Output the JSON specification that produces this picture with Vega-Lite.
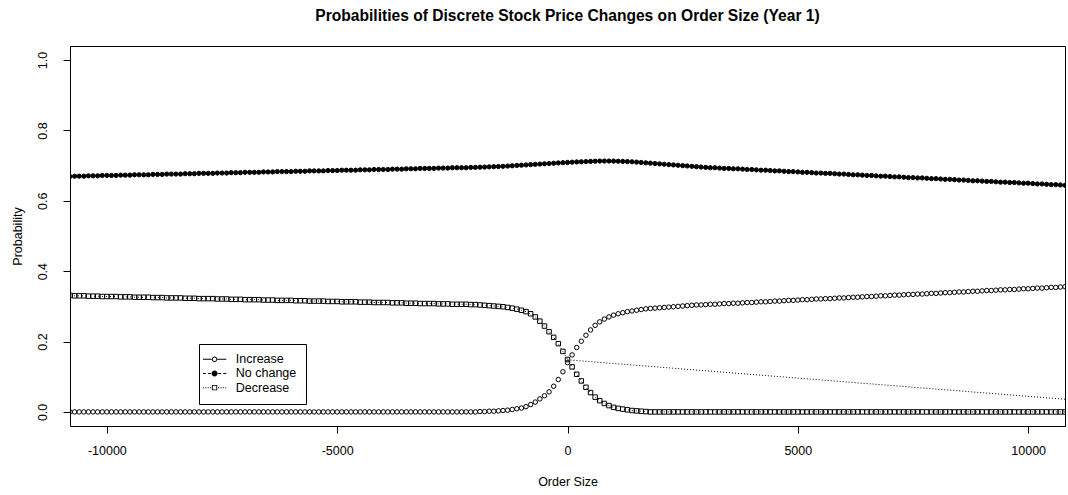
{
"$schema": "https://vega.github.io/schema/vega-lite/v6.json",
"width": 995, "height": 380,
"autosize": {"type": "none"},
"padding": {"left": 70, "top": 46, "right": 3, "bottom": 69},
"background": "white",
"title": {"text": "Probabilities of Discrete Stock Price Changes on Order Size (Year 1)", "font": "Liberation Sans", "fontSize": 15.6, "fontWeight": "bold", "color": "black", "offset": 21, "anchor": "middle", "frame": "group"},
"datasets": {
"prob": [
{"x":-10800,"I":0,"N":0.669,"D":0.331},{"x":-10700,"I":0,"N":0.670,"D":0.330},{"x":-10600,"I":0,"N":0.670,"D":0.330},{"x":-10500,"I":0,"N":0.670,"D":0.330},
{"x":-10400,"I":0,"N":0.671,"D":0.329},{"x":-10300,"I":0,"N":0.671,"D":0.329},{"x":-10200,"I":0,"N":0.671,"D":0.329},{"x":-10100,"I":0,"N":0.672,"D":0.328},
{"x":-10000,"I":0,"N":0.672,"D":0.328},{"x":-9900,"I":0,"N":0.672,"D":0.328},{"x":-9800,"I":0,"N":0.672,"D":0.328},{"x":-9700,"I":0,"N":0.673,"D":0.327},
{"x":-9600,"I":0,"N":0.673,"D":0.327},{"x":-9500,"I":0,"N":0.673,"D":0.327},{"x":-9400,"I":0,"N":0.674,"D":0.326},{"x":-9300,"I":0,"N":0.674,"D":0.326},
{"x":-9200,"I":0,"N":0.674,"D":0.326},{"x":-9100,"I":0,"N":0.674,"D":0.326},{"x":-9000,"I":0,"N":0.675,"D":0.325},{"x":-8900,"I":0,"N":0.675,"D":0.325},
{"x":-8800,"I":0,"N":0.675,"D":0.325},{"x":-8700,"I":0,"N":0.676,"D":0.324},{"x":-8600,"I":0,"N":0.676,"D":0.324},{"x":-8500,"I":0,"N":0.676,"D":0.324},
{"x":-8400,"I":0,"N":0.676,"D":0.324},{"x":-8300,"I":0,"N":0.677,"D":0.323},{"x":-8200,"I":0,"N":0.677,"D":0.323},{"x":-8100,"I":0,"N":0.677,"D":0.323},
{"x":-8000,"I":0,"N":0.678,"D":0.322},{"x":-7900,"I":0,"N":0.678,"D":0.322},{"x":-7800,"I":0,"N":0.678,"D":0.322},{"x":-7700,"I":0,"N":0.678,"D":0.322},
{"x":-7600,"I":0,"N":0.679,"D":0.321},{"x":-7500,"I":0,"N":0.679,"D":0.321},{"x":-7400,"I":0,"N":0.679,"D":0.321},{"x":-7300,"I":0,"N":0.680,"D":0.320},
{"x":-7200,"I":0,"N":0.680,"D":0.320},{"x":-7100,"I":0,"N":0.680,"D":0.320},{"x":-7000,"I":0,"N":0.681,"D":0.319},{"x":-6900,"I":0,"N":0.681,"D":0.319},
{"x":-6800,"I":0,"N":0.681,"D":0.319},{"x":-6700,"I":0,"N":0.681,"D":0.319},{"x":-6600,"I":0,"N":0.682,"D":0.318},{"x":-6500,"I":0,"N":0.682,"D":0.318},
{"x":-6400,"I":0,"N":0.682,"D":0.318},{"x":-6300,"I":0,"N":0.683,"D":0.317},{"x":-6200,"I":0,"N":0.683,"D":0.317},{"x":-6100,"I":0,"N":0.683,"D":0.317},
{"x":-6000,"I":0,"N":0.683,"D":0.317},{"x":-5900,"I":0,"N":0.684,"D":0.316},{"x":-5800,"I":0,"N":0.684,"D":0.316},{"x":-5700,"I":0,"N":0.684,"D":0.316},
{"x":-5600,"I":0,"N":0.685,"D":0.315},{"x":-5500,"I":0,"N":0.685,"D":0.315},{"x":-5400,"I":0,"N":0.685,"D":0.315},{"x":-5300,"I":0,"N":0.685,"D":0.315},
{"x":-5200,"I":0,"N":0.686,"D":0.314},{"x":-5100,"I":0,"N":0.686,"D":0.314},{"x":-5000,"I":0,"N":0.686,"D":0.314},{"x":-4900,"I":0,"N":0.687,"D":0.313},
{"x":-4800,"I":0,"N":0.687,"D":0.313},{"x":-4700,"I":0,"N":0.687,"D":0.313},{"x":-4600,"I":0,"N":0.687,"D":0.313},{"x":-4500,"I":0,"N":0.688,"D":0.312},
{"x":-4400,"I":0,"N":0.688,"D":0.312},{"x":-4300,"I":0,"N":0.688,"D":0.312},{"x":-4200,"I":0,"N":0.689,"D":0.311},{"x":-4100,"I":0,"N":0.689,"D":0.311},
{"x":-4000,"I":0,"N":0.689,"D":0.311},{"x":-3900,"I":0,"N":0.689,"D":0.311},{"x":-3800,"I":0,"N":0.690,"D":0.310},{"x":-3700,"I":0,"N":0.690,"D":0.310},
{"x":-3600,"I":0,"N":0.690,"D":0.310},{"x":-3500,"I":0,"N":0.691,"D":0.309},{"x":-3400,"I":0,"N":0.691,"D":0.309},{"x":-3300,"I":0,"N":0.691,"D":0.309},
{"x":-3200,"I":0,"N":0.692,"D":0.308},{"x":-3100,"I":0,"N":0.692,"D":0.308},{"x":-3000,"I":0,"N":0.692,"D":0.308},{"x":-2900,"I":0,"N":0.692,"D":0.308},
{"x":-2800,"I":0,"N":0.693,"D":0.307},{"x":-2700,"I":0,"N":0.693,"D":0.307},{"x":-2600,"I":0,"N":0.693,"D":0.307},{"x":-2500,"I":0,"N":0.694,"D":0.306},
{"x":-2400,"I":0,"N":0.694,"D":0.306},{"x":-2300,"I":0,"N":0.694,"D":0.306},{"x":-2200,"I":0,"N":0.694,"D":0.306},{"x":-2100,"I":0,"N":0.695,"D":0.305},
{"x":-2000,"I":0,"N":0.695,"D":0.305},{"x":-1900,"I":0.001,"N":0.6955,"D":0.304},{"x":-1800,"I":0.001,"N":0.696,"D":0.303},{"x":-1700,"I":0.002,"N":0.6965,"D":0.302},
{"x":-1600,"I":0.002,"N":0.697,"D":0.301},{"x":-1500,"I":0.003,"N":0.6975,"D":0.300},{"x":-1400,"I":0.004,"N":0.698,"D":0.299},{"x":-1300,"I":0.005,"N":0.6988,"D":0.297},
{"x":-1200,"I":0.007,"N":0.6996,"D":0.295},{"x":-1100,"I":0.009,"N":0.7004,"D":0.292},{"x":-1000,"I":0.011,"N":0.7012,"D":0.289},{"x":-900,"I":0.015,"N":0.702,"D":0.285},
{"x":-800,"I":0.021,"N":0.7028,"D":0.279},{"x":-700,"I":0.028,"N":0.7036,"D":0.270},{"x":-600,"I":0.037,"N":0.7044,"D":0.258},{"x":-500,"I":0.046,"N":0.7052,"D":0.244},
{"x":-400,"I":0.057,"N":0.706,"D":0.228},{"x":-300,"I":0.073,"N":0.7068,"D":0.212},{"x":-200,"I":0.092,"N":0.7076,"D":0.194},{"x":-100,"I":0.114,"N":0.7084,"D":0.172},
{"x":0,"I":0.140,"N":0.709,"D":0.149},{"x":100,"I":0.162,"N":0.7098,"D":0.128},{"x":200,"I":0.183,"N":0.7105,"D":0.107},{"x":300,"I":0.201,"N":0.711,"D":0.088},
{"x":400,"I":0.218,"N":0.7115,"D":0.070},{"x":500,"I":0.233,"N":0.712,"D":0.055},{"x":600,"I":0.246,"N":0.7125,"D":0.042},{"x":700,"I":0.256,"N":0.713,"D":0.032},
{"x":800,"I":0.264,"N":0.713,"D":0.024},{"x":900,"I":0.270,"N":0.713,"D":0.018},{"x":1000,"I":0.275,"N":0.7128,"D":0.013},{"x":1100,"I":0.279,"N":0.7125,"D":0.010},
{"x":1200,"I":0.282,"N":0.712,"D":0.008},{"x":1300,"I":0.285,"N":0.7115,"D":0.006},{"x":1400,"I":0.287,"N":0.711,"D":0.004},{"x":1500,"I":0.289,"N":0.710,"D":0.003},
{"x":1600,"I":0.291,"N":0.709,"D":0.002},{"x":1700,"I":0.293,"N":0.708,"D":0.001},{"x":1800,"I":0.294,"N":0.707,"D":0},{"x":1900,"I":0.295,"N":0.706,"D":0},
{"x":2000,"I":0.296,"N":0.705,"D":0},{"x":2100,"I":0.297,"N":0.704,"D":0},{"x":2200,"I":0.298,"N":0.703,"D":0},{"x":2300,"I":0.299,"N":0.702,"D":0},
{"x":2400,"I":0.300,"N":0.701,"D":0},{"x":2500,"I":0.301,"N":0.700,"D":0},{"x":2600,"I":0.302,"N":0.699,"D":0},{"x":2700,"I":0.303,"N":0.698,"D":0},
{"x":2800,"I":0.304,"N":0.697,"D":0},{"x":2900,"I":0.304,"N":0.696,"D":0},{"x":3000,"I":0.305,"N":0.695,"D":0},{"x":3100,"I":0.306,"N":0.694,"D":0},
{"x":3200,"I":0.306,"N":0.694,"D":0},{"x":3300,"I":0.307,"N":0.693,"D":0},{"x":3400,"I":0.308,"N":0.692,"D":0},{"x":3500,"I":0.308,"N":0.692,"D":0},
{"x":3600,"I":0.309,"N":0.691,"D":0},{"x":3700,"I":0.309,"N":0.691,"D":0},{"x":3800,"I":0.310,"N":0.690,"D":0},{"x":3900,"I":0.311,"N":0.689,"D":0},
{"x":4000,"I":0.311,"N":0.689,"D":0},{"x":4100,"I":0.312,"N":0.688,"D":0},{"x":4200,"I":0.313,"N":0.687,"D":0},{"x":4300,"I":0.313,"N":0.687,"D":0},
{"x":4400,"I":0.314,"N":0.686,"D":0},{"x":4500,"I":0.315,"N":0.685,"D":0},{"x":4600,"I":0.315,"N":0.685,"D":0},{"x":4700,"I":0.316,"N":0.684,"D":0},
{"x":4800,"I":0.317,"N":0.683,"D":0},{"x":4900,"I":0.317,"N":0.683,"D":0},{"x":5000,"I":0.318,"N":0.682,"D":0},{"x":5100,"I":0.319,"N":0.681,"D":0},
{"x":5200,"I":0.319,"N":0.681,"D":0},{"x":5300,"I":0.320,"N":0.680,"D":0},{"x":5400,"I":0.321,"N":0.679,"D":0},{"x":5500,"I":0.321,"N":0.679,"D":0},
{"x":5600,"I":0.322,"N":0.678,"D":0},{"x":5700,"I":0.322,"N":0.678,"D":0},{"x":5800,"I":0.323,"N":0.677,"D":0},{"x":5900,"I":0.324,"N":0.676,"D":0},
{"x":6000,"I":0.324,"N":0.676,"D":0},{"x":6100,"I":0.325,"N":0.675,"D":0},{"x":6200,"I":0.326,"N":0.674,"D":0},{"x":6300,"I":0.326,"N":0.674,"D":0},
{"x":6400,"I":0.327,"N":0.673,"D":0},{"x":6500,"I":0.328,"N":0.672,"D":0},{"x":6600,"I":0.328,"N":0.672,"D":0},{"x":6700,"I":0.329,"N":0.671,"D":0},
{"x":6800,"I":0.330,"N":0.670,"D":0},{"x":6900,"I":0.330,"N":0.670,"D":0},{"x":7000,"I":0.331,"N":0.669,"D":0},{"x":7100,"I":0.332,"N":0.668,"D":0},
{"x":7200,"I":0.332,"N":0.668,"D":0},{"x":7300,"I":0.333,"N":0.667,"D":0},{"x":7400,"I":0.334,"N":0.666,"D":0},{"x":7500,"I":0.334,"N":0.666,"D":0},
{"x":7600,"I":0.335,"N":0.665,"D":0},{"x":7700,"I":0.335,"N":0.665,"D":0},{"x":7800,"I":0.336,"N":0.664,"D":0},{"x":7900,"I":0.337,"N":0.663,"D":0},
{"x":8000,"I":0.337,"N":0.663,"D":0},{"x":8100,"I":0.338,"N":0.662,"D":0},{"x":8200,"I":0.339,"N":0.661,"D":0},{"x":8300,"I":0.339,"N":0.661,"D":0},
{"x":8400,"I":0.340,"N":0.660,"D":0},{"x":8500,"I":0.341,"N":0.659,"D":0},{"x":8600,"I":0.341,"N":0.659,"D":0},{"x":8700,"I":0.342,"N":0.658,"D":0},
{"x":8800,"I":0.343,"N":0.657,"D":0},{"x":8900,"I":0.343,"N":0.657,"D":0},{"x":9000,"I":0.344,"N":0.656,"D":0},{"x":9100,"I":0.345,"N":0.655,"D":0},
{"x":9200,"I":0.345,"N":0.655,"D":0},{"x":9300,"I":0.346,"N":0.654,"D":0},{"x":9400,"I":0.347,"N":0.653,"D":0},{"x":9500,"I":0.347,"N":0.653,"D":0},
{"x":9600,"I":0.348,"N":0.652,"D":0},{"x":9700,"I":0.348,"N":0.652,"D":0},{"x":9800,"I":0.349,"N":0.651,"D":0},{"x":9900,"I":0.350,"N":0.650,"D":0},
{"x":10000,"I":0.350,"N":0.650,"D":0},{"x":10100,"I":0.351,"N":0.649,"D":0},{"x":10200,"I":0.352,"N":0.648,"D":0},{"x":10300,"I":0.352,"N":0.648,"D":0},
{"x":10400,"I":0.353,"N":0.647,"D":0},{"x":10500,"I":0.354,"N":0.646,"D":0},{"x":10600,"I":0.354,"N":0.646,"D":0},{"x":10700,"I":0.355,"N":0.645,"D":0},
{"x":10800,"I":0.356,"N":0.644,"D":0}
],
"seg": [{"x": 0, "p": 0.148}, {"x": 10800, "p": 0.036}]
},
"encoding": {
  "x": {"field": "x", "type": "quantitative", "title": "Order Size",
        "scale": {"domain": [-10800, 10800], "nice": false, "zero": false},
        "axis": {"values": [-10000, -5000, 0, 5000, 10000], "labelExpr": "'' + datum.value", "labelPadding": 11, "titlePadding": 19, "labelFlush": false, "labelOverlap": false}},
  "y": {"field": "p", "type": "quantitative", "title": "Probability",
        "scale": {"domain": [-0.04, 1.04], "nice": false, "zero": false},
        "axis": {"values": [0, 0.2, 0.4, 0.6, 0.8, 1.0], "labelExpr": "format(datum.value, '.1f')", "labelAngle": -90, "labelAlign": "center", "labelBaseline": "bottom", "labelPadding": 14, "titlePadding": 12, "labelOverlap": false}}
},
"layer": [
  {"data": {"name": "prob"},
   "transform": [{"fold": ["I", "N", "D"], "as": ["series", "p"]}, {"filter": "datum.series === 'D'"}],
   "mark": {"type": "line", "stroke": "black", "strokeWidth": 1, "strokeDash": [1, 3], "clip": true}},
  {"data": {"name": "seg"},
   "mark": {"type": "line", "stroke": "black", "strokeWidth": 1, "strokeDash": [1, 2], "clip": true}},
  {"data": {"name": "prob"},
   "transform": [{"fold": ["I", "N", "D"], "as": ["series", "p"]}, {"filter": "datum.series === 'I'"}],
   "mark": {"type": "point", "shape": "circle", "filled": false, "stroke": "black", "strokeWidth": 1, "size": 20, "opacity": 1, "clip": true}},
  {"data": {"name": "prob"},
   "transform": [{"fold": ["I", "N", "D"], "as": ["series", "p"]}, {"filter": "datum.series === 'N'"}],
   "mark": {"type": "point", "shape": "circle", "filled": true, "fill": "black", "stroke": "black", "strokeWidth": 1, "size": 18, "opacity": 1, "clip": true}},
  {"data": {"name": "prob"},
   "transform": [{"fold": ["I", "N", "D"], "as": ["series", "p"]}, {"filter": "datum.series === 'D'"}],
   "mark": {"type": "point", "shape": "square", "filled": false, "stroke": "black", "strokeWidth": 1, "size": 20, "opacity": 1, "clip": true}},
  {"data": {"name": "prob"},
   "transform": [{"fold": ["I", "N", "D"], "as": ["series", "p"]}, {"filter": "false"}],
   "mark": {"type": "point", "filled": true, "color": "black", "strokeWidth": 0, "opacity": 1},
   "encoding": {
     "shape": {"field": "series", "type": "nominal",
       "scale": {"domain": ["I", "N", "D"], "range": [
         "M-2.34,-0.1H-0.54V0.1H-2.34ZM0.54,-0.1H2.34V0.1H0.54ZM-0.54,0A0.54,0.54,0,1,1,0.54,0A0.54,0.54,0,1,1,-0.54,0ZM-0.36,0A0.36,0.36,0,1,0,0.36,0A0.36,0.36,0,1,0,-0.36,0Z",
         "M-2.34,-0.1H-1.74V0.1H-2.34ZM-1.32,-0.1H-0.72V0.1H-1.32ZM0.72,-0.1H1.32V0.1H0.72ZM1.74,-0.1H2.34V0.1H1.74ZM-0.6,0A0.6,0.6,0,1,1,0.6,0A0.6,0.6,0,1,1,-0.6,0Z",
         "M-2.34,-0.1H-2.14V0.1H-2.34ZM-1.86,-0.1H-1.66V0.1H-1.86ZM-1.38,-0.1H-1.18V0.1H-1.38ZM-0.9,-0.1H-0.7V0.1H-0.9ZM0.7,-0.1H0.9V0.1H0.7ZM1.18,-0.1H1.38V0.1H1.18ZM1.66,-0.1H1.86V0.1H1.66ZM2.14,-0.1H2.34V0.1H2.14ZM-0.54,-0.54H0.54V0.54H-0.54ZM-0.36,-0.36V0.36H0.36V-0.36Z"
       ]},
       "legend": {"orient": "none", "legendX": 129, "legendY": 298, "title": null, "padding": 9,
         "strokeColor": "black", "fillColor": "white", "symbolSize": 100, "symbolStrokeWidth": 0,
         "symbolFillColor": "black", "symbolOpacity": 1,
         "symbolOffset": 0.3, "labelOffset": 15, "rowPadding": 1.2,
         "labelFont": "Liberation Sans", "labelFontSize": 12.5, "labelColor": "black",
         "labelExpr": "datum.value === 'I' ? 'Increase' : datum.value === 'N' ? 'No change' : 'Decrease'"}}
   }}
],
"config": {
  "view": {"stroke": "black", "strokeWidth": 1},
  "axis": {"domain": false, "grid": false, "ticks": true, "tickColor": "black", "tickSize": 7, "tickWidth": 1,
           "labelFont": "Liberation Sans", "labelFontSize": 12.5, "labelColor": "black",
           "titleFont": "Liberation Sans", "titleFontSize": 12.5, "titleFontWeight": "normal", "titleColor": "black"}
}
}
